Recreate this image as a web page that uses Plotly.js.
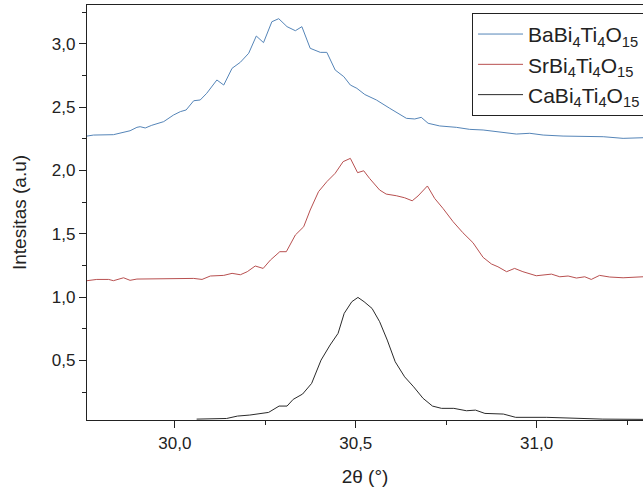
<!DOCTYPE html>
<html>
<head>
<meta charset="utf-8">
<script src="https://cdn.plot.ly/plotly-3.0.1.min.js"></script>
<style>
html, body { margin: 0; padding: 0; overflow: hidden; background: #fff; }
#chart { width: 720px; height: 490px; }
</style>
</head>
<body>
<div id="chart"></div>
<script>
// Series names
const seriesNames = ["BaBi<sub>4</sub>Ti<sub>4</sub>O<sub>15</sub>",
                     "SrBi<sub>4</sub>Ti<sub>4</sub>O<sub>15</sub>",
                     "CaBi<sub>4</sub>Ti<sub>4</sub>O<sub>15</sub>"];

// BaBi4Ti4O15
const baX = [29.757,29.775,29.830,29.849,29.876,29.895,29.904,29.918,29.936,29.969,29.996,30.015,30.031,30.052,30.070,30.088,30.116,30.135,30.158,30.181,30.204,30.225,30.245,30.268,30.287,30.310,30.333,30.351,30.374,30.402,30.420,30.443,30.467,30.485,30.503,30.525,30.557,30.594,30.640,30.663,30.681,30.700,30.732,30.778,30.815,30.852,30.898,30.944,30.981,31.018,31.073,31.128,31.184,31.239,31.294];
const baY = [2.272,2.280,2.283,2.294,2.314,2.341,2.346,2.336,2.357,2.386,2.438,2.465,2.478,2.551,2.557,2.610,2.715,2.675,2.807,2.855,2.926,3.062,3.010,3.175,3.199,3.136,3.104,3.136,2.965,2.933,2.933,2.794,2.741,2.675,2.649,2.600,2.557,2.491,2.412,2.407,2.420,2.373,2.352,2.341,2.325,2.320,2.306,2.288,2.294,2.280,2.272,2.267,2.267,2.254,2.259];

// SrBi4Ti4O15
const srX = [29.757,29.784,29.817,29.830,29.858,29.876,29.895,29.978,30.052,30.075,30.098,30.135,30.158,30.181,30.200,30.222,30.244,30.264,30.290,30.308,30.333,30.356,30.374,30.397,30.420,30.443,30.465,30.485,30.505,30.522,30.538,30.566,30.584,30.612,30.635,30.656,30.672,30.698,30.718,30.741,30.769,30.796,30.824,30.852,30.875,30.893,30.917,30.939,30.962,30.999,31.041,31.064,31.087,31.110,31.133,31.151,31.174,31.202,31.239,31.294];
const srY = [1.130,1.140,1.140,1.130,1.153,1.133,1.143,1.146,1.148,1.140,1.167,1.172,1.188,1.177,1.201,1.246,1.227,1.293,1.359,1.359,1.491,1.556,1.688,1.833,1.912,1.978,2.070,2.096,1.983,1.998,1.938,1.846,1.814,1.801,1.785,1.761,1.799,1.878,1.780,1.701,1.596,1.509,1.430,1.314,1.262,1.240,1.201,1.227,1.201,1.169,1.182,1.161,1.167,1.151,1.161,1.140,1.172,1.159,1.153,1.161];

// CaBi4Ti4O15
const caX = [30.060,30.143,30.173,30.207,30.259,30.288,30.310,30.327,30.353,30.378,30.404,30.429,30.451,30.468,30.489,30.506,30.523,30.545,30.566,30.587,30.609,30.635,30.660,30.686,30.712,30.737,30.771,30.806,30.831,30.857,30.908,30.942,31.028,31.120,31.183,31.294];
const caY = [0.037,0.042,0.061,0.069,0.090,0.140,0.140,0.193,0.235,0.319,0.503,0.622,0.714,0.872,0.964,0.998,0.964,0.911,0.806,0.661,0.490,0.371,0.292,0.201,0.140,0.122,0.122,0.103,0.108,0.082,0.077,0.051,0.051,0.040,0.037,0.035];

const xTickVals = [30.0, 30.5, 31.0];
const yTickVals = [0.5, 1.0, 1.5, 2.0, 2.5, 3.0];

const colors = ["#5585b8", "#b85050", "#2a2a2a"];

const traces = [
  {x: baX, y: baY, name: seriesNames[0], mode: "lines", line: {color: colors[0], width: 1}},
  {x: srX, y: srY, name: seriesNames[1], mode: "lines", line: {color: colors[1], width: 1}},
  {x: caX, y: caY, name: seriesNames[2], mode: "lines", line: {color: colors[2], width: 1}}
];

const font = "Liberation Sans, Arial, sans-serif";

const layout = {
  width: 720, height: 490,
  margin: {l: 87, r: 77, t: 5, b: 70, autoexpand: false},
  paper_bgcolor: "#fff", plot_bgcolor: "#fff",
  separators: ", ",
  font: {family: font, color: "#222", size: 16},
  showlegend: true,
  legend: {
    x: 0.6925, y: 0.981, xanchor: "left", yanchor: "top",
    bgcolor: "#fff", bordercolor: "#222", borderwidth: 1,
    itemwidth: 45,
    font: {family: font, size: 21, color: "#222"}
  },
  xaxis: {
    range: [29.757, 31.294],
    tickvals: xTickVals, tickformat: ".1f",
    ticks: "outside", ticklen: 7, tickwidth: 1, tickcolor: "#222",
    minor: {dtick: 0.25, tick0: 30.0, ticks: "outside", ticklen: 4, tickwidth: 1, tickcolor: "#222"},
    showline: true, linecolor: "#222", linewidth: 1.2, mirror: true,
    showgrid: false, zeroline: false,
    tickfont: {size: 17},
    title: {text: "2θ (°)", font: {size: 19}, standoff: 18}
  },
  yaxis: {
    range: [0.03, 3.307],
    tickvals: yTickVals, tickformat: ".1f",
    ticks: "outside", ticklen: 7, tickwidth: 1, tickcolor: "#222",
    minor: {dtick: 0.25, tick0: 0, ticks: "outside", ticklen: 4, tickwidth: 1, tickcolor: "#222"},
    showline: true, linecolor: "#222", linewidth: 1.2, mirror: false,
    showgrid: false, zeroline: false,
    tickfont: {size: 17},
    title: {text: "Intesitas (a.u)", font: {size: 19}, standoff: 20}
  }
};

Plotly.newPlot("chart", traces, layout, {displayModeBar: false, staticPlot: true});
</script>
</body>
</html>
